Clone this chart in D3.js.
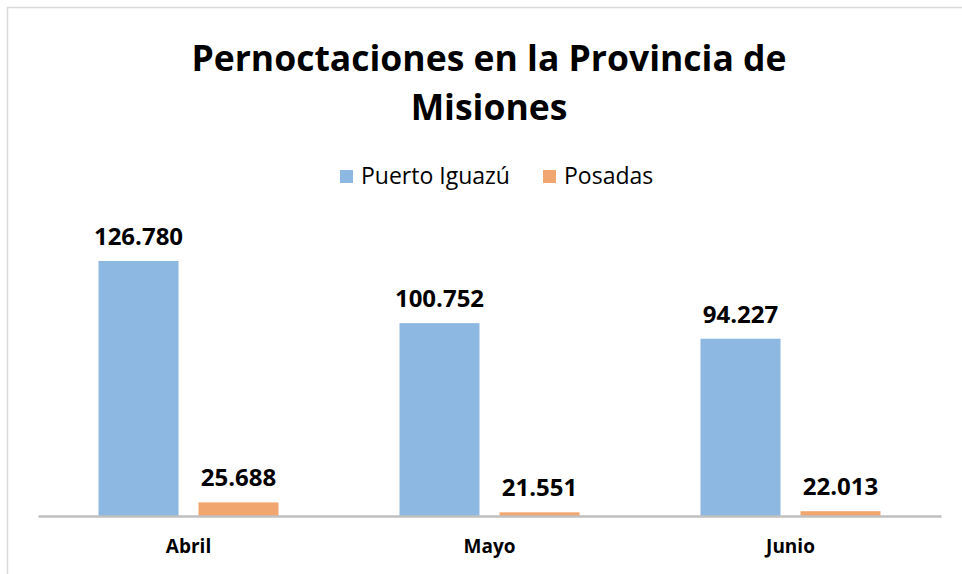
<!DOCTYPE html>
<html>
<head>
<meta charset="utf-8">
<script src="https://cdn.jsdelivr.net/npm/d3@7"></script>
<style>
  body { margin: 0; background: #fff; }
  text { font-family: "Open Sans", sans-serif; fill: #000; }
</style>
</head>
<body>
<div id="wrapper"></div>
<script>
const months = ["Abril", "Mayo", "Junio"];
const seriesNames = ["Puerto Iguazú", "Posadas"];
const puertoIguazu = [126780, 100752, 94227];
const posadas = [25688, 21551, 22013];
const seriesColors = ["#8db8e2", "#f2a66f"];
const titleLines = ["Pernoctaciones en la Provincia de", "Misiones"];

function draw() {
  const dimensions = {
    width: 962,
    height: 574,
    plotLeft: 38,
    plotRight: 941,
    baseline: 516,
    plotTop: 229.4
  };

  const fmt = d3.formatLocale({ decimal: ",", thousands: ".", grouping: [3], currency: ["$", ""] }).format(",d");

  const svg = d3.select("#wrapper")
    .append("svg")
      .attr("width", dimensions.width)
      .attr("height", dimensions.height);

  // chart border (left and top)
  svg.append("path")
    .attr("d", "M7.5," + dimensions.height + " V7.5 H" + dimensions.width)
    .attr("fill", "none")
    .attr("stroke", "#d9d9d9")
    .attr("stroke-width", 1.5);

  // title
  svg.append("g")
    .selectAll("text")
    .data(titleLines)
    .join("text")
      .attr("x", 489)
      .attr("y", (d, i) => 71 + i * 49)
      .attr("text-anchor", "middle")
      .attr("font-size", 35.5)
      .attr("font-weight", "bold")
      .text(d => d);

  // legend
  const legendX = [340, 543];
  const legend = svg.append("g")
    .selectAll("g")
    .data(seriesNames)
    .join("g")
      .attr("transform", (d, i) => "translate(" + legendX[i] + ", 170)");
  legend.append("rect")
    .attr("width", 13)
    .attr("height", 13)
    .attr("fill", (d, i) => seriesColors[i]);
  legend.append("text")
    .attr("x", 21)
    .attr("y", 13.5)
    .attr("font-size", 23)
    .text(d => d);

  // scales
  const x0 = d3.scaleBand()
    .domain(months)
    .range([dimensions.plotLeft, dimensions.plotRight]);
  const x1 = d3.scaleBand()
    .domain(seriesNames)
    .range([0, x0.bandwidth()])
    .paddingInner(0.2)
    .paddingOuter(0.605);
  const y = d3.scaleLinear()
    .domain([20000, 140000])
    .range([dimensions.baseline, dimensions.plotTop]);

  const rows = months.map((m, i) => ({
    month: m,
    values: [
      { key: seriesNames[0], value: puertoIguazu[i], color: seriesColors[0] },
      { key: seriesNames[1], value: posadas[i], color: seriesColors[1] }
    ]
  }));

  const groups = svg.append("g")
    .selectAll("g")
    .data(rows)
    .join("g")
      .attr("transform", d => "translate(" + x0(d.month) + ", 0)");

  groups.selectAll("rect")
    .data(d => d.values)
    .join("rect")
      .attr("x", d => x1(d.key))
      .attr("y", d => y(d.value))
      .attr("width", x1.bandwidth())
      .attr("height", d => y(y.domain()[0]) - y(d.value))
      .attr("fill", d => d.color);

  groups.selectAll("text")
    .data(d => d.values)
    .join("text")
      .attr("x", d => x1(d.key) + x1.bandwidth() / 2)
      .attr("y", d => y(d.value) - 16)
      .attr("text-anchor", "middle")
      .attr("font-size", 24)
      .attr("font-weight", "bold")
      .text(d => fmt(d.value));

  // x axis
  const xAxis = d3.axisBottom(x0).tickSize(0).tickPadding(24);
  const xAxisGroup = svg.append("g")
    .attr("transform", "translate(0, " + dimensions.baseline + ")")
    .call(xAxis);
  xAxisGroup.select(".domain")
    .attr("stroke", "#bfbfbf")
    .attr("stroke-width", 2.5);
  xAxisGroup.selectAll("text")
    .attr("font-family", "'Open Sans', sans-serif")
    .attr("font-size", 19)
    .attr("font-weight", "bold")
    .attr("fill", "#000");
}
draw();
</script>
</body>
</html>
